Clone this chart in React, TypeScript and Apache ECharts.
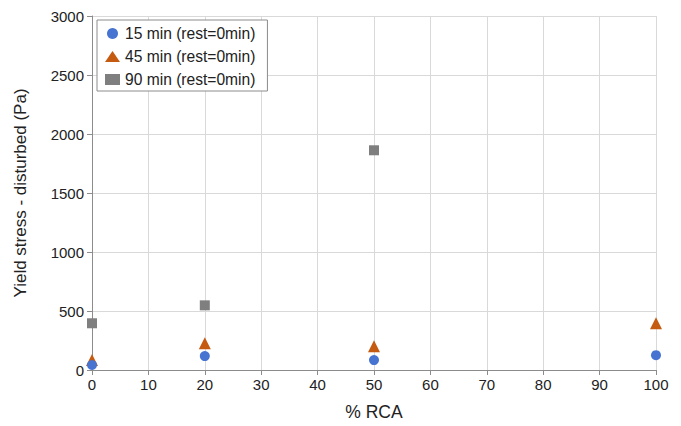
import React, { useEffect, useRef } from "react";
import * as echarts from "echarts";

const seriesNames = ["15 min (rest=0min)", "45 min (rest=0min)", "90 min (rest=0min)"];
const rca15 = [0, 20, 50, 100];
const yield15 = [42, 118, 84, 126];
const rca45 = [0, 20, 50, 100];
const yield45 = [84, 227, 202, 396];
const rca90 = [0, 20, 50];
const yield90 = [396, 548, 1862];
const colors = ["#4774d1", "#c55a11", "#7f7f7f"];
const symbols = ["circle", "triangle", "rect"];
const symbolSizes = [10, 12, 10];

export default function App() {
  const ref = useRef<HTMLDivElement>(null);
  useEffect(() => {
    const chart = echarts.init(ref.current!, undefined, { renderer: "svg" });
    const xs = [rca15, rca45, rca90];
    const ys = [yield15, yield45, yield90];
    const font = "Liberation Sans, Helvetica, Arial, sans-serif";
    chart.setOption({
      animation: false,
      textStyle: { fontFamily: font },
      grid: { left: 92, right: 25, top: 16, bottom: 54, containLabel: false },
      legend: {
        orient: "vertical",
        left: 97,
        top: 20,
        padding: [5, 12, 3, 8],
        itemGap: 6,
        itemWidth: 15,
        itemHeight: 11,
        borderColor: "#8c8c8c",
        borderWidth: 1,
        backgroundColor: "#fff",
        textStyle: { fontSize: 15.6, lineHeight: 17, color: "#222", fontFamily: font },
        data: seriesNames,
      },
      xAxis: {
        type: "value",
        min: 0,
        max: 100,
        interval: 10,
        name: "% RCA",
        nameLocation: "middle",
        nameGap: 33,
        nameTextStyle: { fontSize: 17.5, color: "#222", fontFamily: font },
        axisLine: { show: true, lineStyle: { color: "#8c8c8c", width: 1 } },
        axisTick: { show: true, length: 5, lineStyle: { color: "#8c8c8c" } },
        axisLabel: { fontSize: 15, color: "#222", margin: 7 },
        splitLine: { show: true, lineStyle: { color: "#d9d9d9", width: 1 } },
      },
      yAxis: {
        type: "value",
        min: 0,
        max: 3000,
        interval: 500,
        name: "Yield stress - disturbed (Pa)",
        nameLocation: "middle",
        nameGap: 63,
        nameTextStyle: { fontSize: 17, color: "#222", fontFamily: font },
        axisLine: { show: true, lineStyle: { color: "#8c8c8c", width: 1 } },
        axisTick: { show: true, length: 5, lineStyle: { color: "#8c8c8c" } },
        axisLabel: { fontSize: 15, color: "#222", margin: 8, formatter: (v: number) => String(v) },
        splitLine: { show: true, lineStyle: { color: "#d9d9d9", width: 1 } },
      },
      series: seriesNames.map((name, i) => ({
        name,
        type: "scatter",
        symbol: symbols[i],
        symbolSize: symbolSizes[i],
        itemStyle: { color: colors[i], opacity: 1 },
        data: xs[i].map((x, j) => [x, ys[i][j]]),
        z: 3 - i,
      })),
    });
    return () => chart.dispose();
  }, []);
  return <div ref={ref} style={{ width: 681, height: 426, position: "absolute", left: 0, top: 0 }} />;
}
